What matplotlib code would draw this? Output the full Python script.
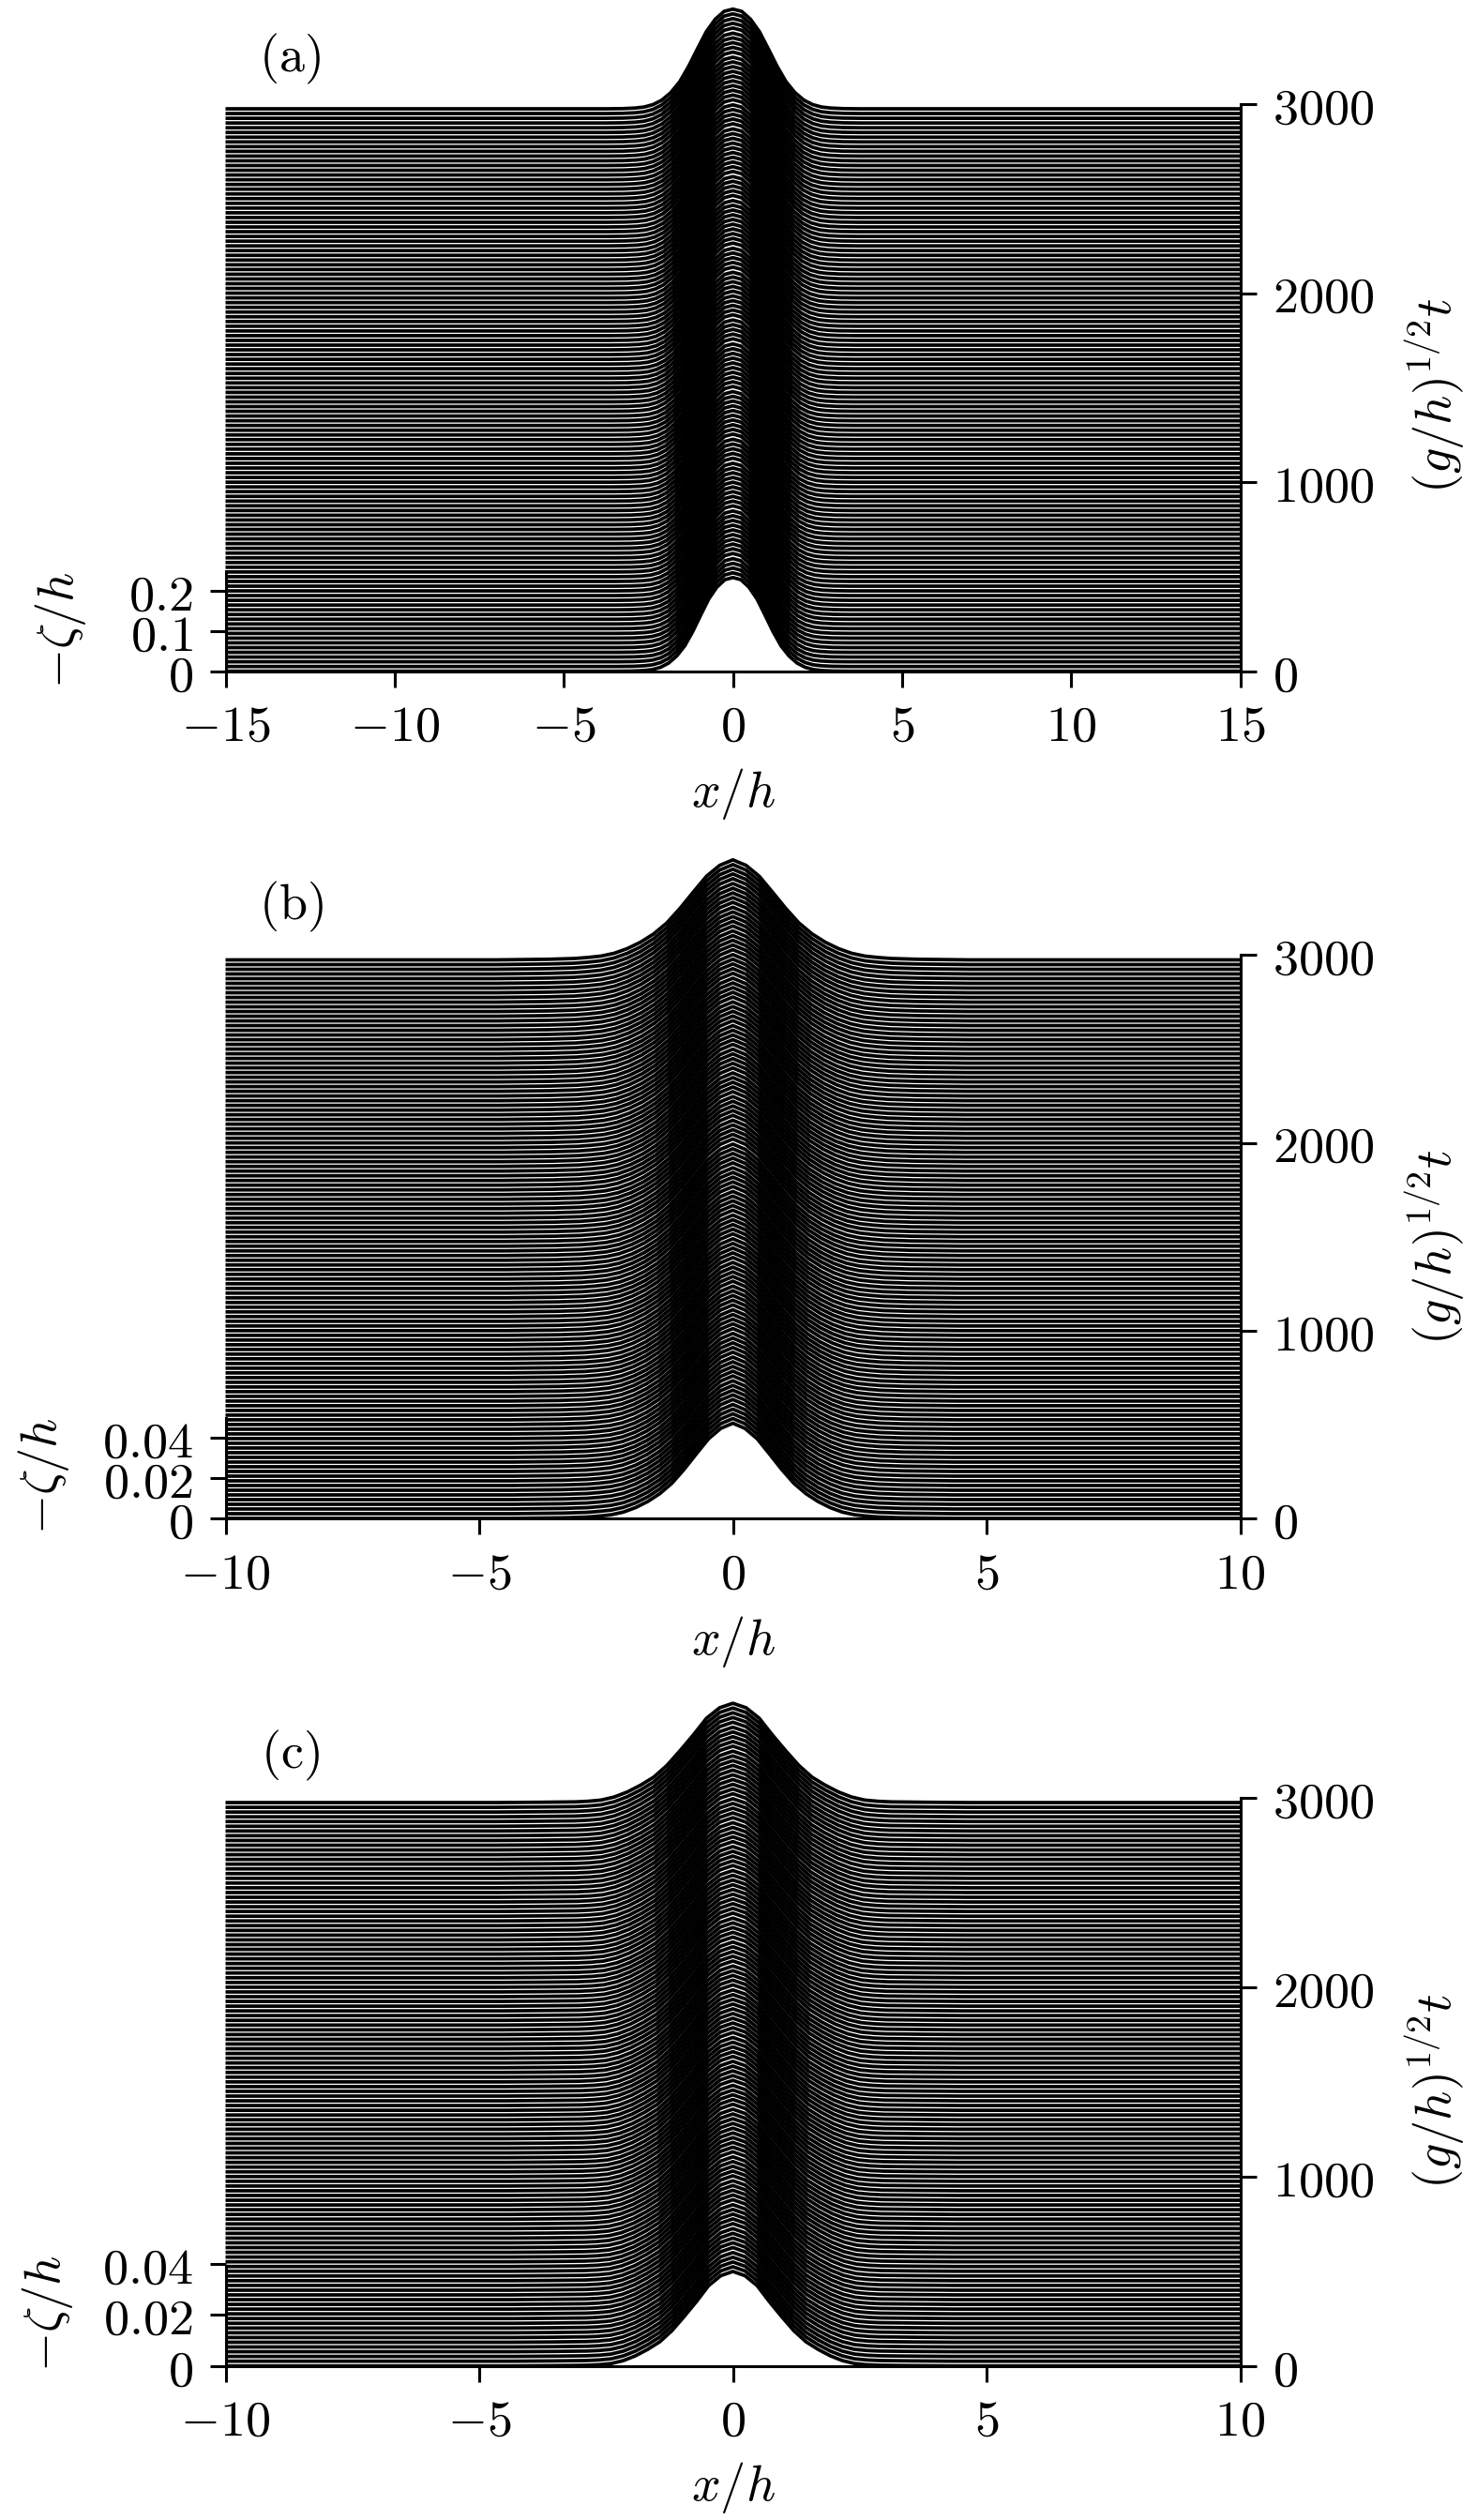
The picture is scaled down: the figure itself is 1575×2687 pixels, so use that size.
# -*- coding: utf-8 -*-
import numpy as np
import matplotlib
matplotlib.use('Agg')
import matplotlib.pyplot as plt

plt.rcParams['mathtext.fontset'] = 'cm'
plt.rcParams['font.family'] = ['DejaVu Serif']

# times of the stacked profiles
times = [0, 25, 50, 75, 100, 125, 150, 175, 200, 225, 250, 275, 300, 325, 350, 375,
         400, 425, 450, 475, 500, 525, 550, 575, 600, 625, 650, 675, 700, 725, 750, 775,
         800, 825, 850, 875, 900, 925, 950, 975, 1000, 1025, 1050, 1075, 1100, 1125, 1150, 1175,
         1200, 1225, 1250, 1275, 1300, 1325, 1350, 1375, 1400, 1425, 1450, 1475, 1500, 1525, 1550, 1575,
         1600, 1625, 1650, 1675, 1700, 1725, 1750, 1775, 1800, 1825, 1850, 1875, 1900, 1925, 1950, 1975,
         2000, 2025, 2050, 2075, 2100, 2125, 2150, 2175, 2200, 2225, 2250, 2275, 2300, 2325, 2350, 2375,
         2400, 2425, 2450, 2475, 2500, 2525, 2550, 2575, 2600, 2625, 2650, 2675, 2700, 2725, 2750, 2775,
         2800, 2825, 2850, 2875, 2900, 2925, 2950, 2975]

# half profile shape of each panel (peak = 1), estimated from the bottom and top curves
a_x = [0, 0.25, 0.5, 0.75, 1.0, 1.25, 1.5, 1.75, 2.0, 2.25, 2.5, 2.75, 3.1, 3.6]
a_shape = [1, 0.977, 0.897, 0.772, 0.60, 0.423, 0.27, 0.162, 0.087, 0.042, 0.018, 0.008, 0.002, 0]
b_x = [0, 0.25, 0.5, 0.75, 1.0, 1.25, 1.5, 1.75, 2.0, 2.25, 2.5, 2.75, 3.0, 3.5, 4.5]
b_shape = [1, 0.945, 0.836, 0.678, 0.516, 0.37, 0.26, 0.177, 0.113, 0.066, 0.038, 0.024, 0.014, 0.006, 0]
c_x = [0, 0.25, 0.5, 0.75, 1.0, 1.25, 1.5, 1.75, 2.0, 2.25, 2.5, 2.75, 3.0, 3.7, 4.5]
c_shape = [1, 0.955, 0.849, 0.68, 0.523, 0.374, 0.256, 0.175, 0.107, 0.056, 0.025, 0.013, 0.007, 0.003, 0]

# peak height and width factor for every block of five profiles, bottom to top
a_peak = [0.234, 0.235, 0.235, 0.236, 0.236, 0.237, 0.238, 0.238, 0.239, 0.239, 0.240, 0.241,
          0.241, 0.242, 0.243, 0.243, 0.244, 0.245, 0.245, 0.246, 0.247, 0.247, 0.248, 0.249]
b_peak = [0.0472, 0.0473, 0.0474, 0.0475, 0.0476, 0.0477, 0.0478, 0.0479, 0.0480, 0.0481, 0.0482, 0.0483,
          0.0485, 0.0486, 0.0487, 0.0488, 0.0489, 0.0490, 0.0491, 0.0492, 0.0493, 0.0494, 0.0495, 0.0496]
c_peak = [0.0371, 0.0372, 0.0373, 0.0374, 0.0375, 0.0376, 0.0376, 0.0377, 0.0378, 0.0379, 0.0380, 0.0380,
          0.0381, 0.0382, 0.0383, 0.0384, 0.0384, 0.0385, 0.0386, 0.0387, 0.0388, 0.0388, 0.0389, 0.0390]
a_width = [0.95, 0.954, 0.959, 0.963, 0.967, 0.972, 0.976, 0.98, 0.985, 0.989, 0.993, 0.998,
           1.002, 1.007, 1.011, 1.015, 1.02, 1.024, 1.028, 1.033, 1.037, 1.041, 1.046, 1.05]
bc_width = [0.96, 0.963, 0.967, 0.97, 0.974, 0.977, 0.98, 0.984, 0.987, 0.99, 0.994, 0.998,
            1.002, 1.006, 1.01, 1.013, 1.016, 1.02, 1.023, 1.026, 1.03, 1.033, 1.037, 1.04]

a_xticks = [-15, -10, -5, 0, 5, 10, 15]
a_xlabels = ['$-15$', '$-10$', '$-5$', '$0$', '$5$', '$10$', '$15$']
bc_xticks = [-10, -5, 0, 5, 10]
bc_xlabels = ['$-10$', '$-5$', '$0$', '$5$', '$10$']
t_ticks = [0, 1000, 2000, 3000]
t_labels = ['$0$', '$1000$', '$2000$', '$3000$']
a_zticks = [0, 0.1, 0.2]
a_zlabels = ['$0$', '$0.1$', '$0.2$']
bc_zticks = [0, 0.02, 0.04]
bc_zlabels = ['$0$', '$0.02$', '$0.04$']

W, H = 1575, 2687
DPI = 100
LEFT, RIGHT = 240.5, 1322.5
FS = 39
LW = 2.7
BLOCK = 5


def draw_panel(fig, name, y0, y3000, px_per_z, xlim, xticks, xlabels, zticks, zlabels,
               half_x, shape, peak, width, name_xy, zlabel_xy, tlabel_xy, xlabel_y):
    top = y3000 - 125
    ax = fig.add_axes([LEFT / W, 1 - y0 / H, (RIGHT - LEFT) / W, (y0 - top) / H])
    ax2 = ax.twinx()
    ax.set_zorder(2)
    ax2.set_zorder(1)
    ax.patch.set_visible(False)

    t_top = 3000 * (y0 - top) / (y0 - y3000)
    z_top = (y0 - top) / px_per_z
    ax2.set_ylim(0, t_top)
    ax.set_ylim(0, z_top)
    ax.set_xlim(xlim)
    t_per_z = t_top / z_top

    half_x = np.array(half_x)
    shape = np.array(shape)
    x_full = np.r_[-half_x[::-1], half_x[1:]]
    z_full = np.r_[shape[::-1], shape[1:]]
    for i, t in enumerate(times):
        block = i // BLOCK
        x_line = np.r_[xlim[0], x_full * width[block], xlim[1]]
        z_line = np.r_[0, z_full * peak[block], 0]
        ax2.plot(x_line, t + z_line * t_per_z, color='k', lw=LW, clip_on=False,
                 solid_capstyle='butt', solid_joinstyle='round')

    ax.set_xticks(xticks)
    ax.set_xticklabels(xlabels)
    ax.set_yticks(zticks)
    ax.set_yticklabels(zlabels)
    ax2.set_yticks(t_ticks)
    ax2.set_yticklabels(t_labels)

    for a in (ax, ax2):
        a.tick_params(length=12, width=2.2, labelsize=FS, pad=13)
        a.spines['top'].set_visible(False)
        for s in a.spines.values():
            s.set_linewidth(2.2)
        for label in a.get_yticklabels():
            label.set_va('center_baseline')
    ax.tick_params(axis='x', pad=12)
    ax.spines['right'].set_visible(False)
    ax.spines['left'].set_bounds(0, max(peak))
    ax2.spines['left'].set_visible(False)
    ax2.spines['bottom'].set_visible(False)
    ax2.spines['right'].set_bounds(0, 3000)

    fig.text(name_xy[0] / W, 1 - name_xy[1] / H, r'$\mathrm{(%s)}$' % name, fontsize=FS,
             ha='center', va='center')
    fig.text(zlabel_xy[0] / W, 1 - zlabel_xy[1] / H, r'$-\zeta/h$', fontsize=FS,
             rotation=90, ha='center', va='center')
    fig.text(tlabel_xy[0] / W, 1 - tlabel_xy[1] / H, r'$(g/h)^{1/2}t$', fontsize=FS,
             rotation=90, ha='center', va='center')
    fig.text((LEFT + RIGHT) / 2 / W, 1 - xlabel_y / H, r'$x/h$', fontsize=FS,
             ha='center', va='center')


if __name__ == '__main__':
    fig = plt.figure(figsize=(W / DPI, H / DPI), dpi=DPI)

    draw_panel(fig, 'a', 715.7, 111, 427, (-15, 15), a_xticks, a_xlabels, a_zticks, a_zlabels,
               a_x, a_shape, a_peak, a_width,
               (309, 63), (65, 672), (1530, 422), 847)
    draw_panel(fig, 'b', 1619, 1018.5, 2150, (-10, 10), bc_xticks, bc_xlabels, bc_zticks, bc_zlabels,
               b_x, b_shape, b_peak, bc_width,
               (310, 967), (47, 1574), (1530, 1330), 1750)
    draw_panel(fig, 'c', 2522.7, 1917, 2715, (-10, 10), bc_xticks, bc_xlabels, bc_zticks, bc_zlabels,
               c_x, c_shape, c_peak, bc_width,
               (309, 1872), (50, 2467), (1530, 2230), 2653)

    fig.savefig('out.png', dpi=DPI)
    plt.close(fig)
